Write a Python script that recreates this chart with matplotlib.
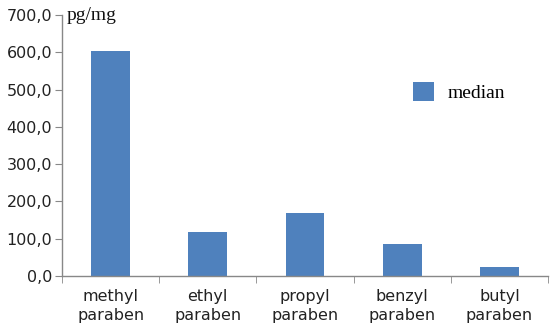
import matplotlib
matplotlib.use("Agg")
import matplotlib.pyplot as plt
import numpy as np

categories = ["methyl\nparaben", "ethyl\nparaben", "propyl\nparaben", "benzyl\nparaben", "butyl\nparaben"]
median = [603, 119, 169, 85, 25]
yticks = [0, 100, 200, 300, 400, 500, 600, 700]

fig = plt.figure(figsize=(5.5, 3.3), dpi=100)
ax = fig.add_axes([62/550, 54/330, 486/550, 261/330])

x = np.arange(len(categories))
ax.bar(x, median, width=0.4, color="#4F81BD", label="median", zorder=2)

ax.set_xlim(-0.5, len(categories) - 0.5)
ax.set_ylim(0, 700)
ax.set_yticks(yticks)
ax.set_yticklabels([f"{v:.1f}".replace(".", ",") for v in yticks], fontsize=11.5, color="#222222")
ax.set_xticks(x)
ax.set_xticklabels(categories, fontsize=11.5, color="#222222", linespacing=1.4)
ax.set_xticks(np.arange(-0.5, len(categories), 1.0), minor=True)
ax.tick_params(axis="x", which="major", length=0, pad=9)
ax.tick_params(axis="x", which="minor", length=5, color="#888888", direction="out")
ax.tick_params(axis="y", length=5, color="#888888", direction="out", pad=2)

for s in ["top", "right"]:
    ax.spines[s].set_visible(False)
for s in ["left", "bottom"]:
    ax.spines[s].set_color("#888888")
    ax.spines[s].set_linewidth(1.0)

fig.text(67/550, 1 - 15/330, "pg/mg", fontsize=14, family="Liberation Serif", va="center", ha="left", color="#111111")

leg = ax.legend(loc="center left", bbox_to_anchor=(395/550, 1 - 92/330), bbox_transform=fig.transFigure,
                frameon=False, prop={"family": "Liberation Serif", "size": 14},
                handlelength=1.1, handleheight=1.1, handletextpad=0.7)

fig.savefig("out.png", dpi=100, facecolor="white")
